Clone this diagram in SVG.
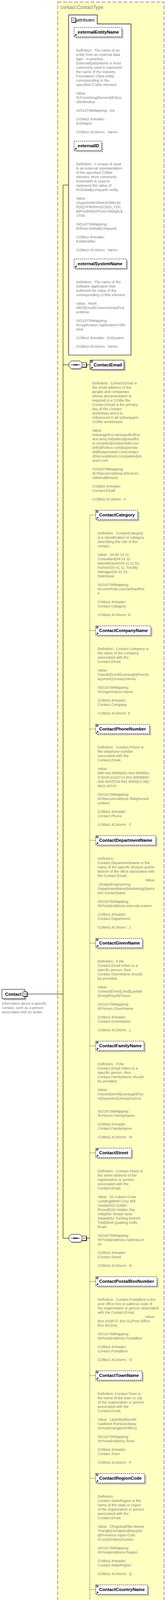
<svg xmlns="http://www.w3.org/2000/svg" width="429" height="5090" viewBox="0 0 429 5090">
<style>
.t{font-family:Tahoma,"Liberation Sans",Arial,sans-serif;font-size:9.3px;fill:#808080}
.lb{font-family:"Liberation Sans",Arial,sans-serif;font-size:11.3px;font-weight:bold;fill:#000}
.bx{fill:#fff;stroke:#000;stroke-width:1}
.dbx{fill:#fff;stroke:#000;stroke-width:1;stroke-dasharray:3,2}
.sh{fill:#c0c0c0}
.con{stroke:#000;stroke-width:1;fill:none}
.dcon{stroke:#000;stroke-width:1;fill:none;stroke-dasharray:2,2}
</style>
<defs>
<g id="ar"><path d="M1.5,-1.5 L5,-5" stroke="#000" stroke-width="1.2" fill="none"/><path d="M2.5,-6.5 H6.5 V-2.5 Z" fill="#000"/></g>
<g id="eq" stroke="#000" stroke-width="1"><path d="M1,1.5 H7 M1,3.5 H7 M1,5.5 H7"/></g>
<g id="mi"><rect x="-4" y="-4" width="11" height="11" fill="#000"/><rect x="-5.5" y="-5.5" width="11" height="11" fill="#fff" stroke="#000"/><path d="M-3.5,0 H3.5" stroke="#000"/></g>
<g id="pl"><rect x="-4" y="-4" width="11" height="11" fill="#000"/><rect x="-5.5" y="-5.5" width="11" height="11" fill="#fff" stroke="#000"/><path d="M-3.5,0 H3.5 M0,-3.5 V3.5" stroke="#000"/></g>
<g id="seq"><path d="M9,-7 H31 L37,-1 V7 L31,13 H9 L3,7 V-1 Z" class="sh"/><path d="M6,-10 H28 L34,-4 V4 L28,10 H6 L0,4 V-4 Z" fill="#fff" stroke="#000"/><path d="M5,0 H29" stroke="#000"/><rect x="11.5" y="-1.5" width="3" height="3" fill="#000"/><rect x="15.5" y="-1.5" width="3" height="3" fill="#000"/><rect x="19.5" y="-1.5" width="3" height="3" fill="#000"/></g>
</defs>

<g id="ContactType">
<rect x="147.3" y="5.3" width="271.4" height="5078.7" fill="#FFFFC2" stroke="#808080" stroke-width="1.5" stroke-dasharray="10,4"/>
<text x="154.3" y="23" font-family="'Liberation Sans',Arial,sans-serif" font-size="12px" fill="#808080">contact:ContactType</text>
</g>

<g id="connectors">
<path class="con" d="M69,2544.7 H161"/>
<path class="con" d="M175.3,473.7 H161 V3169.8 H176"/>
<path class="con" d="M161,934 H176"/>
<path class="con" d="M220,934 H230"/>
<path class="con" d="M220,3169.8 H229.3"/>
<path class="dcon" d="M244.3,1318.3 H229.3 V5021.3 H244.3"/>
<path class="dcon" d="M229.3,1614.3 H244.3 M229.3,1866.3 H244.3 M229.3,2151.3 H244.3 M229.3,2414.3 H244.3 M229.3,2677.3 H244.3 M229.3,2951.3 H244.3 M229.3,3280.3 H244.3 M229.3,3521.3 H244.3 M229.3,3784.3 H244.3 M229.3,4069.3 H244.3 M229.3,4332.3 H244.3 M229.3,4617.3 H244.3 M229.3,4869.3 H244.3 M229.3,4945.3 H244.3"/>
</g>

<g id="Contact">
<rect class="sh" x="9" y="2536.7" width="58.5" height="24"/>
<rect class="bx" x="5" y="2532.7" width="58.5" height="24"/>
<text class="lb" x="13" y="2548.7">Contact</text>
<use href="#mi" x="63.5" y="2544.7"/>
<text class="t"><tspan x="5" y="2572.1">Information about a specific</tspan><tspan x="5" y="2583.1">contact, such as a person</tspan><tspan x="5" y="2594.1">associated with an asset.</tspan></text>
</g>

<g id="attributes">
<path d="M175.3,909 V38.3 H248.3 V61.3 H334.5 V909 Z" fill="#fff" stroke="#000" stroke-width="1.2"/>
<use href="#mi" x="187.8" y="51.4"/>
<text x="195.5" y="55" font-family="'Liberation Sans',Arial,sans-serif" font-size="11.3px" font-style="italic" fill="#000">attributes</text>
</g>

<g id="externalEntityName">
<rect class="sh" x="193" y="74.3" width="122" height="24"/>
<rect class="dbx" x="189" y="70.3" width="122" height="24"/>
<use href="#ar" x="189" y="94.3"/>
<text class="lb" x="198.3" y="86.3">externalEntityName</text>
<text class="t" xml:space="preserve"><tspan x="194.3" y="131.7">Definition:  The name of an</tspan><tspan x="194.3" y="142.7">entity from an external data</tspan><tspan x="194.3" y="153.7">type.  In practice,</tspan><tspan x="194.3" y="164.7">ExternalEntityName is most</tspan><tspan x="194.3" y="175.7">commonly used to represent</tspan><tspan x="194.3" y="186.7">the name of the Industry</tspan><tspan x="194.3" y="197.7">Foundation Class entity</tspan><tspan x="194.3" y="208.7">corresponding to the</tspan><tspan x="194.3" y="219.7">specified COBie element.</tspan><tspan x="194.3" y="241.7">Value:</tspan><tspan x="194.3" y="252.7">IfcFurnishingElement|IfcDoo</tspan><tspan x="194.3" y="263.7">r|IfcWindow</tspan><tspan x="194.3" y="285.7">ISO16739Mapping:  n/a</tspan><tspan x="194.3" y="307.7">COBie2.4Header:</tspan><tspan x="194.3" y="318.7">ExtObject</tspan><tspan x="194.3" y="340.7">COBie2.4Column:  Varies</tspan></text>
</g>

<g id="externalID">
<rect class="sh" x="193" y="365.3" width="70.3" height="24"/>
<rect class="dbx" x="189" y="361.3" width="70.3" height="24"/>
<use href="#ar" x="189" y="385.3"/>
<text class="lb" x="198.3" y="377.3">externalID</text>
<text class="t" xml:space="preserve"><tspan x="194.3" y="422.7">Definition:  A unique id used</tspan><tspan x="194.3" y="433.7">in an external representation</tspan><tspan x="194.3" y="444.7">of the specified COBie</tspan><tspan x="194.3" y="455.7">element. Most commonly</tspan><tspan x="194.3" y="466.7">ExternalID is used to</tspan><tspan x="194.3" y="477.7">represent the value of</tspan><tspan x="194.3" y="488.7">IfcGloballyUniqueID entity.</tspan><tspan x="194.3" y="510.7">Value:</tspan><tspan x="194.3" y="521.7">1hypqXnMHDlwKZc9bkVjN</tspan><tspan x="194.3" y="532.7">R|3QYFkhRmzECBGi_FDC</tspan><tspan x="194.3" y="543.7">88Pu|30b56ZPunCX9x5gIL$</tspan><tspan x="194.3" y="554.7">UTx9</tspan><tspan x="194.3" y="576.7">ISO16739Mapping:</tspan><tspan x="194.3" y="587.7">IfcRoot.GloballyUniqueId</tspan><tspan x="194.3" y="609.7">COBie2.4Header:</tspan><tspan x="194.3" y="620.7">ExtIdentifier</tspan><tspan x="194.3" y="642.7">COBie2.4Column:  Varies</tspan></text>
</g>

<g id="externalSystemName">
<rect class="sh" x="193.3" y="667" width="133.4" height="24"/>
<rect class="dbx" x="189.3" y="663" width="133.4" height="24"/>
<use href="#ar" x="189.3" y="687"/>
<text class="lb" x="198.3" y="679">externalSystemName</text>
<text class="t" xml:space="preserve"><tspan x="194.3" y="725.1">Definition:  The name of the</tspan><tspan x="194.3" y="736.1">software application that</tspan><tspan x="194.3" y="747.1">authored the value of the</tspan><tspan x="194.3" y="758.1">corresponding COBie element.</tspan><tspan x="194.3" y="780.1">Value:  Revit</tspan><tspan x="194.3" y="791.1">MEP|Excel|Constructivity|Proj</tspan><tspan x="194.3" y="802.1">ectWise</tspan><tspan x="194.3" y="824.1">ISO16739Mapping:</tspan><tspan x="194.3" y="835.1">IfcApplication.ApplicationFullN</tspan><tspan x="194.3" y="846.1">ame</tspan><tspan x="194.3" y="868.1">COBie2.4Header:  ExtSystem</tspan><tspan x="194.3" y="890.1">COBie2.4Column:  Varies</tspan></text>
</g>

<g id="sequence1"><use href="#seq" x="176" y="934"/><use href="#mi" x="215" y="934"/></g>
<g id="sequence2"><use href="#seq" x="176" y="3169.8"/><use href="#mi" x="215" y="3169.8"/></g>

<g id="ContactEmail">
<rect class="sh" x="234" y="926" width="86.7" height="24"/>
<rect class="bx" x="230" y="922" width="86.7" height="24"/>
<use href="#eq" x="230" y="922"/>
<use href="#ar" x="230" y="946"/>
<text class="lb" x="239.3" y="938">ContactEmail</text>
<text class="t" xml:space="preserve"><tspan x="235.7" y="984.1">Definition:  Contact.Email is</tspan><tspan x="235.7" y="995.1">the email address of the</tspan><tspan x="235.7" y="1006.1">people and companies</tspan><tspan x="235.7" y="1017.1">whose documentation is</tspan><tspan x="235.7" y="1028.1">required in a COBie file.</tspan><tspan x="235.7" y="1039.1">Contact.Email is the primary</tspan><tspan x="235.7" y="1050.1">key of the Contact</tspan><tspan x="235.7" y="1061.1">worksheet and it is</tspan><tspan x="235.7" y="1072.1">referenced in all subsequent</tspan><tspan x="235.7" y="1083.1">COBie worksheets.</tspan><tspan x="235.7" y="1105.1">Value:</tspan><tspan x="235.7" y="1116.1">mariangelica.carrasquillo@us</tspan><tspan x="235.7" y="1127.1">ace.army.mil|sales@panelfol</tspan><tspan x="235.7" y="1138.1">d.com|info@modernfold.com</tspan><tspan x="235.7" y="1149.1">|info@hufcor.com|karpenste</tspan><tspan x="235.7" y="1160.1">el@karpensteel.com|contact</tspan><tspan x="235.7" y="1171.1">@securalldoors.com|sales@m</tspan><tspan x="235.7" y="1182.1">arvin.com</tspan><tspan x="235.7" y="1204.1">ISO16739Mapping:</tspan><tspan x="235.7" y="1215.1">IfcTelecomAddress.Electroni</tspan><tspan x="235.7" y="1226.1">cMailAddresses</tspan><tspan x="235.7" y="1248.1">COBie2.4Header:</tspan><tspan x="235.7" y="1259.1">Contact.Email</tspan><tspan x="235.7" y="1281.1">COBie2.4Column:  A</tspan></text>
</g>

<g id="ContactCategory">
<rect class="sh" x="248.3" y="1310.3" width="107.4" height="24"/>
<rect class="dbx" x="244.3" y="1306.3" width="107.4" height="24"/>
<use href="#eq" x="244.3" y="1306.3"/><use href="#ar" x="244.3" y="1330.3"/>
<text class="lb" x="253.3" y="1322.3">ContactCategory</text>
<text class="t" xml:space="preserve"><tspan x="249.3" y="1367.7">Definition:  ContactCategory</tspan><tspan x="249.3" y="1378.7">is a classification or category</tspan><tspan x="249.3" y="1389.7">describing the role of the</tspan><tspan x="249.3" y="1400.7">contact.</tspan><tspan x="249.3" y="1422.7">Value:  34-55 14 11:</tspan><tspan x="249.3" y="1433.7">Consultant|34-31 11:</tspan><tspan x="249.3" y="1444.7">Manufacturer|34-11 11 51:</tspan><tspan x="249.3" y="1455.7">Partner|34-41 11: Facility</tspan><tspan x="249.3" y="1466.7">Manager|34-31 21:</tspan><tspan x="249.3" y="1477.7">Distributor</tspan><tspan x="249.3" y="1499.7">ISO16739Mapping:</tspan><tspan x="249.3" y="1510.7">IfcActorRole.UserDefinedRol</tspan><tspan x="249.3" y="1521.7">e</tspan><tspan x="249.3" y="1543.7">COBie2.4Header:</tspan><tspan x="249.3" y="1554.7">Contact.Category</tspan><tspan x="249.3" y="1576.7">COBie2.4Column: D</tspan></text>
</g>

<g id="ContactCompanyName">
<rect class="sh" x="248.3" y="1606.3" width="140.7" height="24"/>
<rect class="dbx" x="244.3" y="1602.3" width="140.7" height="24"/>
<use href="#eq" x="244.3" y="1602.3"/><use href="#ar" x="244.3" y="1626.3"/>
<text class="lb" x="253.3" y="1618.3">ContactCompanyName</text>
<text class="t" xml:space="preserve"><tspan x="249.3" y="1663.7">Definition:  Contact.Company is</tspan><tspan x="249.3" y="1674.7">the name of the company</tspan><tspan x="249.3" y="1685.7">associated with the</tspan><tspan x="249.3" y="1696.7">Contact.Email.</tspan><tspan x="249.3" y="1718.7">Value:</tspan><tspan x="249.3" y="1729.7">Claush|Domili|Lienaugh|Peen|S</tspan><tspan x="249.3" y="1740.7">wyumtor|Umsay|Vumos</tspan><tspan x="249.3" y="1762.7">ISO16739Mapping:</tspan><tspan x="249.3" y="1773.7">IfcOrganization.Name</tspan><tspan x="249.3" y="1795.7">COBie2.4Header:</tspan><tspan x="249.3" y="1806.7">Contact.Company</tspan><tspan x="249.3" y="1828.7">COBie2.4Column: E</tspan></text>
</g>

<g id="ContactPhoneNumber">
<rect class="sh" x="248.3" y="1858.3" width="137.4" height="24"/>
<rect class="dbx" x="244.3" y="1854.3" width="137.4" height="24"/>
<use href="#eq" x="244.3" y="1854.3"/><use href="#ar" x="244.3" y="1878.3"/>
<text class="lb" x="253.3" y="1870.3">ContactPhoneNumber</text>
<text class="t" xml:space="preserve"><tspan x="249.3" y="1915.7">Definition:  Contact.Phone is</tspan><tspan x="249.3" y="1926.7">the telephone number</tspan><tspan x="249.3" y="1937.7">associated with the</tspan><tspan x="249.3" y="1948.7">Contact.Email.</tspan><tspan x="249.3" y="1970.7">Value:</tspan><tspan x="249.3" y="1981.7">888-462-5866|401-942-8000|81-</tspan><tspan x="249.3" y="1992.7">3-3218-2111|714-921-6000|800-</tspan><tspan x="249.3" y="2003.7">456-4537|704-841-6000|21-352-</tspan><tspan x="249.3" y="2014.7">6511 x6710</tspan><tspan x="249.3" y="2036.7">ISO16739Mapping:</tspan><tspan x="249.3" y="2047.7">IfcTelecomAddress.TelephoneN</tspan><tspan x="249.3" y="2058.7">umbers</tspan><tspan x="249.3" y="2080.7">COBie2.4Header:</tspan><tspan x="249.3" y="2091.7">Contact.Phone</tspan><tspan x="249.3" y="2113.7">COBie2.4Column:  F</tspan></text>
</g>

<g id="ContactDepartmentName">
<rect class="sh" x="248.3" y="2143.3" width="153.4" height="24"/>
<rect class="dbx" x="244.3" y="2139.3" width="153.4" height="24"/>
<use href="#eq" x="244.3" y="2139.3"/><use href="#ar" x="244.3" y="2163.3"/>
<text class="lb" x="253.3" y="2155.3">ContactDepartmentName</text>
<text class="t" xml:space="preserve"><tspan x="249.3" y="2200.7">Definition:</tspan><tspan x="249.3" y="2211.7">Contact.DepartmentName is the</tspan><tspan x="249.3" y="2222.7">name of the specific division and/or</tspan><tspan x="249.3" y="2233.7">branch of the office associated with</tspan><tspan x="249.3" y="2244.7">the Contact.Email.</tspan><tspan x="370.7" y="2255.7">Value:</tspan><tspan x="249.3" y="2266.7"> Design|Engineering</tspan><tspan x="249.3" y="2277.7">DepartmentName|Marketing|Opera</tspan><tspan x="249.3" y="2288.7">tion Center|Sales</tspan><tspan x="249.3" y="2310.7">ISO16739Mapping:</tspan><tspan x="249.3" y="2321.7">IfcPostalAddress.InternalLocation</tspan><tspan x="249.3" y="2343.7">COBie2.4Header:</tspan><tspan x="249.3" y="2354.7">Contact.Department</tspan><tspan x="249.3" y="2376.7">COBie2.4Column:  J</tspan></text>
</g>

<g id="ContactGivenName">
<rect class="sh" x="248.3" y="2406.3" width="119" height="24"/>
<rect class="dbx" x="244.3" y="2402.3" width="119" height="24"/>
<use href="#eq" x="244.3" y="2402.3"/><use href="#ar" x="244.3" y="2426.3"/>
<text class="lb" x="253.3" y="2418.3">ContactGivenName</text>
<text class="t" xml:space="preserve"><tspan x="249.3" y="2463.7">Definition:  If the</tspan><tspan x="249.3" y="2474.7">Contact.Email refers to a</tspan><tspan x="249.3" y="2485.7">specific person, then</tspan><tspan x="249.3" y="2496.7">Contact.GivenName should</tspan><tspan x="249.3" y="2507.7">be provided.</tspan><tspan x="249.3" y="2529.7">Value:</tspan><tspan x="249.3" y="2540.7">Ackwor|Erves|Lised|Lyefath</tspan><tspan x="249.3" y="2551.7">|Kisep|Rayeb|Traum</tspan><tspan x="249.3" y="2573.7">ISO16739Mapping:</tspan><tspan x="249.3" y="2584.7">IfcPerson.GivenName</tspan><tspan x="249.3" y="2606.7">COBie2.4Header:</tspan><tspan x="249.3" y="2617.7">Contact.GivenName</tspan><tspan x="249.3" y="2639.7">COBie2.4Column:  L</tspan></text>
</g>

<g id="ContactFamilyName">
<rect class="sh" x="248.3" y="2669.3" width="123.4" height="24"/>
<rect class="dbx" x="244.3" y="2665.3" width="123.4" height="24"/>
<use href="#eq" x="244.3" y="2665.3"/><use href="#ar" x="244.3" y="2689.3"/>
<text class="lb" x="253.3" y="2681.3">ContactFamilyName</text>
<text class="t" xml:space="preserve"><tspan x="249.3" y="2726.7">Definition:  If the</tspan><tspan x="249.3" y="2737.7">Contact.Email refers to a</tspan><tspan x="249.3" y="2748.7">specific person, then</tspan><tspan x="249.3" y="2759.7">Contact.FamilyName should</tspan><tspan x="249.3" y="2770.7">be provided.</tspan><tspan x="249.3" y="2792.7">Value:</tspan><tspan x="249.3" y="2803.7">Claush|Domili|Lienaugh|Pee</tspan><tspan x="249.3" y="2814.7">n|Swyumtor|Umsay|Vumos</tspan><tspan x="249.3" y="2847.7">ISO16739Mapping:</tspan><tspan x="249.3" y="2858.7">IfcPerson.FamilyName</tspan><tspan x="249.3" y="2880.7">COBie2.4Header:</tspan><tspan x="249.3" y="2891.7">Contact.FamilyName</tspan><tspan x="249.3" y="2913.7">COBie2.4Column:  M</tspan></text>
</g>

<g id="ContactStreet">
<rect class="sh" x="248.3" y="2943.3" width="91.4" height="24"/>
<rect class="dbx" x="244.3" y="2939.3" width="91.4" height="24"/>
<use href="#eq" x="244.3" y="2939.3"/><use href="#ar" x="244.3" y="2963.3"/>
<text class="lb" x="253.3" y="2955.3">ContactStreet</text>
<text class="t" xml:space="preserve"><tspan x="249.3" y="3000.7">Definition:  Contact.Street is</tspan><tspan x="249.3" y="3011.7">the street address of the</tspan><tspan x="249.3" y="3022.7">organization or person</tspan><tspan x="249.3" y="3033.7">associated with the</tspan><tspan x="249.3" y="3044.7">Contact.Email.</tspan><tspan x="249.3" y="3066.7">Value:  51 Auburn Crow</tspan><tspan x="249.3" y="3077.7">Landing|9600 Cozy Mill</tspan><tspan x="249.3" y="3088.7">View|4333 Golden</tspan><tspan x="249.3" y="3099.7">Round|525 Hidden Sky</tspan><tspan x="249.3" y="3110.7">Villa|868 Tender Nest</tspan><tspan x="249.3" y="3121.7">Swale|651 Turning Branch</tspan><tspan x="249.3" y="3132.7">Trail|2548 Quaking Holly</tspan><tspan x="249.3" y="3143.7">Road</tspan><tspan x="249.3" y="3165.7">ISO16739Mapping:</tspan><tspan x="249.3" y="3176.7">IfcPostalAddress.AddressLin</tspan><tspan x="249.3" y="3187.7">es</tspan><tspan x="249.3" y="3209.7">COBie2.4Header:</tspan><tspan x="249.3" y="3220.7">Contact.Street</tspan><tspan x="249.3" y="3242.7">COBie2.4Column:  N</tspan></text>
</g>

<g id="ContactPostalBoxNumber">
<rect class="sh" x="248.3" y="3272.3" width="156.4" height="24"/>
<rect class="dbx" x="244.3" y="3268.3" width="156.4" height="24"/>
<use href="#eq" x="244.3" y="3268.3"/><use href="#ar" x="244.3" y="3292.3"/>
<text class="lb" x="253.3" y="3284.3">ContactPostalBoxNumber</text>
<text class="t" xml:space="preserve"><tspan x="249.3" y="3329.7">Definition:  Contact.PostalBox is the</tspan><tspan x="249.3" y="3340.7">post office box or address code of</tspan><tspan x="249.3" y="3351.7">the organization or person associated</tspan><tspan x="249.3" y="3362.7">with the Contact.Email.</tspan><tspan x="370.7" y="3373.7">Value:</tspan><tspan x="249.3" y="3384.7">Box 433|P.O. Box 51|Post Office</tspan><tspan x="249.3" y="3395.7">Box 651|n/a</tspan><tspan x="249.3" y="3417.7">ISO16739Mapping:</tspan><tspan x="249.3" y="3428.7">IfcPostalAddress.PostalBox</tspan><tspan x="249.3" y="3450.7">COBie2.4Header:</tspan><tspan x="249.3" y="3461.7">Contact.PostalBox</tspan><tspan x="249.3" y="3483.7">COBie2.4Column:  O</tspan></text>
</g>

<g id="ContactTownName">
<rect class="sh" x="248.3" y="3513.3" width="118.4" height="24"/>
<rect class="dbx" x="244.3" y="3509.3" width="118.4" height="24"/>
<use href="#eq" x="244.3" y="3509.3"/><use href="#ar" x="244.3" y="3533.3"/>
<text class="lb" x="253.3" y="3525.3">ContactTownName</text>
<text class="t" xml:space="preserve"><tspan x="249.3" y="3570.7">Definition: Contact.Town is</tspan><tspan x="249.3" y="3581.7">the name of the town or city</tspan><tspan x="249.3" y="3592.7">of the organization or person</tspan><tspan x="249.3" y="3603.7">associated with the</tspan><tspan x="249.3" y="3614.7">Contact.Email.</tspan><tspan x="249.3" y="3636.7">Value:  Lewisfield|South</tspan><tspan x="249.3" y="3647.7">Caldland Point|Jackway</tspan><tspan x="249.3" y="3658.7">Grove|Grantglen|Hilferry</tspan><tspan x="249.3" y="3680.7">ISO16739Mapping:</tspan><tspan x="249.3" y="3691.7">IfcPostalAddress.Town</tspan><tspan x="249.3" y="3713.7">COBie2.4Header:</tspan><tspan x="249.3" y="3724.7">Contact.Town</tspan><tspan x="249.3" y="3746.7">COBie2.4Column:  P</tspan></text>
</g>

<g id="ContactRegionCode">
<rect class="sh" x="248.3" y="3776.3" width="125" height="24"/>
<rect class="dbx" x="244.3" y="3772.3" width="125" height="24"/>
<use href="#eq" x="244.3" y="3772.3"/><use href="#ar" x="244.3" y="3796.3"/>
<text class="lb" x="253.3" y="3788.3">ContactRegionCode</text>
<text class="t" xml:space="preserve"><tspan x="249.3" y="3833.7">Definition:</tspan><tspan x="249.3" y="3844.7">Contact.StateRegion is the</tspan><tspan x="249.3" y="3855.7">name of the state or region</tspan><tspan x="249.3" y="3866.7">of the organization or person</tspan><tspan x="249.3" y="3877.7">associated with the</tspan><tspan x="249.3" y="3888.7">Contact.Email.</tspan><tspan x="249.3" y="3910.7">Value:  Chogoku|Elbe-Weser</tspan><tspan x="249.3" y="3921.7">Triangle|Hordaland|Marylan</tspan><tspan x="249.3" y="3932.7">d|Provence-Alpes-Cote</tspan><tspan x="249.3" y="3943.7">d'Azur|Ontario|Sussex</tspan><tspan x="249.3" y="3965.7">ISO16739Mapping:</tspan><tspan x="249.3" y="3976.7">IfcPostalAddress.Region</tspan><tspan x="249.3" y="3998.7">COBie2.4Header:</tspan><tspan x="249.3" y="4009.7">Contact.StateRegion</tspan><tspan x="249.3" y="4031.7">COBie2.4Column:  Q</tspan></text>
</g>

<g id="ContactCountryName">
<rect class="sh" x="248.3" y="4061.3" width="132.7" height="24"/>
<rect class="dbx" x="244.3" y="4057.3" width="132.7" height="24"/>
<use href="#eq" x="244.3" y="4057.3"/><use href="#ar" x="244.3" y="4081.3"/>
<text class="lb" x="253.3" y="4073.3">ContactCountryName</text>
<text class="t" xml:space="preserve"><tspan x="249.3" y="4118.7">Definition:  Contact.Country is</tspan><tspan x="249.3" y="4129.7">the country of the organization</tspan><tspan x="249.3" y="4140.7">or person associated with the</tspan><tspan x="249.3" y="4151.7">Contact.Email.</tspan><tspan x="249.3" y="4173.7">Value:</tspan><tspan x="249.3" y="4184.7">Brundalona|Ferrenya|Marsopu</tspan><tspan x="249.3" y="4195.7">r|Manundand|Sibovus|Theona</tspan><tspan x="249.3" y="4206.7">so|na|n/a</tspan><tspan x="249.3" y="4228.7">ISO16739Mapping:</tspan><tspan x="249.3" y="4239.7">IfcPostalAddress.Country</tspan><tspan x="249.3" y="4261.7">COBie2.4Header:</tspan><tspan x="249.3" y="4272.7">Contact.Country</tspan><tspan x="249.3" y="4294.7">COBie2.4Column:  S</tspan></text>
</g>

<g id="ContactPostalCode">
<rect class="sh" x="248.3" y="4324.3" width="120.7" height="24"/>
<rect class="dbx" x="244.3" y="4320.3" width="120.7" height="24"/>
<use href="#eq" x="244.3" y="4320.3"/><use href="#ar" x="244.3" y="4344.3"/>
<text class="lb" x="253.3" y="4336.3">ContactPostalCode</text>
<text class="t" xml:space="preserve"><tspan x="249.3" y="4381.7">Definition:</tspan><tspan x="249.3" y="4392.7">Contact.PostalCode is the</tspan><tspan x="249.3" y="4403.7">national postal code of the</tspan><tspan x="249.3" y="4414.7">organization or person</tspan><tspan x="249.3" y="4425.7">associated with the</tspan><tspan x="249.3" y="4436.7">Contact.Email.</tspan><tspan x="249.3" y="4458.7">Value:</tspan><tspan x="249.3" y="4469.7">20832|61826|CEDEX|H0H</tspan><tspan x="249.3" y="4480.7">0H0|LL57 4ND|PO1</tspan><tspan x="249.3" y="4491.7">4DJ|RG12 7UP</tspan><tspan x="249.3" y="4513.7">ISO16739Mapping:</tspan><tspan x="249.3" y="4524.7">IfcPostalAddress.PostalCode</tspan><tspan x="249.3" y="4546.7">COBie2.4Header:</tspan><tspan x="249.3" y="4557.7">Contact.PostalCode"</tspan><tspan x="249.3" y="4579.7">COBie2.4Column:  R</tspan></text>
</g>

<g id="ContactURL">
<rect class="sh" x="248.3" y="4609.3" width="78.4" height="24"/>
<rect class="dbx" x="244.3" y="4605.3" width="78.4" height="24"/>
<use href="#eq" x="244.3" y="4605.3"/><use href="#ar" x="244.3" y="4629.3"/>
<text class="lb" x="253.3" y="4621.3">ContactURL</text>
<text class="t" xml:space="preserve"><tspan x="249.3" y="4666.7">Definition:  The URL of the</tspan><tspan x="249.3" y="4677.7">Contact's Website.</tspan><tspan x="249.3" y="4699.7">Value:</tspan><tspan x="249.3" y="4710.7">http://www.honeywell.com|</tspan><tspan x="249.3" y="4721.7">http://www.Kohler.com</tspan><tspan x="249.3" y="4743.7">ISO16739Mapping:</tspan><tspan x="249.3" y="4754.7">IfcTelecomAddress.WWWHo</tspan><tspan x="249.3" y="4765.7">mePageURL</tspan><tspan x="249.3" y="4787.7">COBie2.4Header:  n/a (new</tspan><tspan x="249.3" y="4798.7">field)</tspan><tspan x="249.3" y="4820.7">COBie2.4Column:  n/a (new</tspan><tspan x="249.3" y="4831.7">field)</tspan></text>
</g>

<g id="ContactAttributes">
<rect class="sh" x="248.3" y="4861.3" width="118.4" height="24"/>
<rect class="dbx" x="244.3" y="4857.3" width="118.4" height="24"/>
<use href="#ar" x="244.3" y="4881.3"/>
<text class="lb" x="253.3" y="4873.3">ContactAttributes</text>
<use href="#pl" x="362.7" y="4869.3"/>
<text class="t"><tspan x="249.3" y="4896.7">A set of Attribute elements</tspan><tspan x="249.3" y="4907.7">associated with an Contact</tspan><tspan x="249.3" y="4918.7">element.</tspan></text>
</g>

<g id="ContactDocuments">
<rect class="sh" x="248.3" y="4937.3" width="125.7" height="24"/>
<rect class="dbx" x="244.3" y="4933.3" width="125.7" height="24"/>
<use href="#ar" x="244.3" y="4957.3"/>
<text class="lb" x="253.3" y="4949.3">ContactDocuments</text>
<use href="#pl" x="370" y="4945.3"/>
<text class="t"><tspan x="249.3" y="4972.7">A set of Document elements</tspan><tspan x="249.3" y="4983.7">associated with an Contact</tspan><tspan x="249.3" y="4994.7">element.</tspan></text>
</g>

<g id="ContactIssues">
<rect class="sh" x="248.3" y="5013.3" width="100.7" height="24"/>
<rect class="dbx" x="244.3" y="5009.3" width="100.7" height="24"/>
<use href="#ar" x="244.3" y="5033.3"/>
<text class="lb" x="253.3" y="5025.3">ContactIssues</text>
<use href="#pl" x="345" y="5021.3"/>
<text class="t"><tspan x="249.3" y="5048.7">A set of Issue elements</tspan><tspan x="249.3" y="5059.7">associated with an Contact</tspan><tspan x="249.3" y="5070.7">element.</tspan></text>
</g>
</svg>
